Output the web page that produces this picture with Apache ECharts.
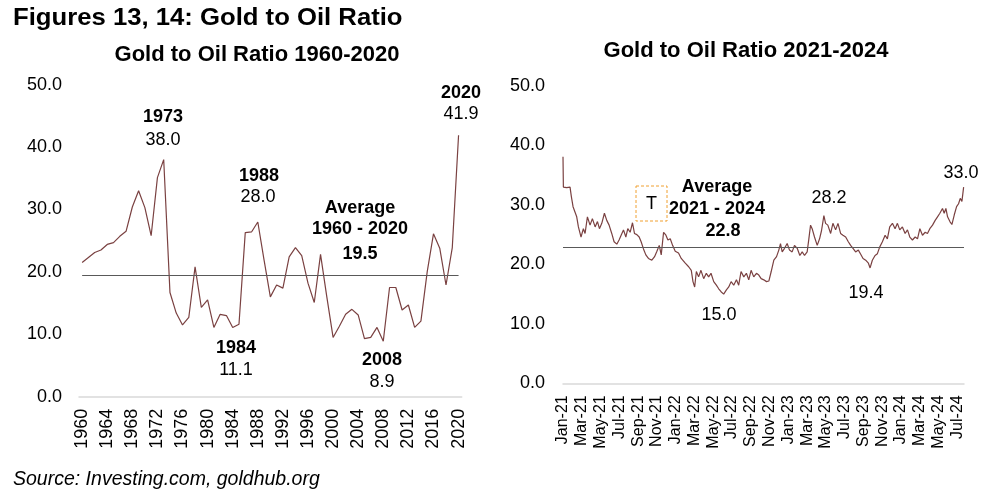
<!DOCTYPE html>
<html>
<head>
<meta charset="utf-8">
<script src="https://cdn.jsdelivr.net/npm/echarts@6/dist/echarts.min.js"></script>
<style>
html,body{margin:0;padding:0;background:#fff;}
#chart{width:1008px;height:500px;}
</style>
</head>
<body>
<div id="chart"></div>
<script>
// ---- Left chart data: Gold to Oil Ratio 1960-2020 (annual) ----
var leftYears = [];
for (var yy = 1960; yy <= 2020; yy++) leftYears.push(String(yy));
var leftValues = [
  21.5, 22.3, 23.1, 23.5, 24.4, 24.7, 25.7, 26.5, 30.4, 33.0,
  30.3, 25.8, 35.1, 38.0, 16.7, 13.4, 11.5, 12.7, 20.8, 14.3,
  15.5, 11.1, 13.2, 13.0, 11.1, 11.6, 26.3, 26.4, 28.0, 21.9,
  16.0, 17.9, 17.4, 22.4, 23.9, 22.6, 18.2, 15.1, 22.8, 16.0,
  9.5, 11.3, 13.2, 14.0, 13.1, 9.3, 9.5, 11.1, 8.9, 17.5,
  17.5, 13.9, 14.7, 11.1, 12.1, 20.0, 26.1, 23.8, 17.9, 23.9,
  41.9
];
var leftAverage = 19.5;

// ---- Right chart data: Gold to Oil Ratio 2021-2024 (months since Jan-21) ----
var rightMonths = [
  0, 0.04, 0.39, 0.75, 0.89, 1.07, 1.46, 1.64, 1.92, 2.17, 2.35, 2.6, 2.88, 3.13, 3.42, 3.67, 3.88, 4.13, 4.41, 4.66,
  4.91, 5.19, 5.44, 5.73, 5.97, 6.19, 6.44, 6.69, 6.9, 7.15, 7.4, 7.61, 7.86, 8.11, 8.32, 8.57, 8.82, 9.1, 9.46, 9.75,
  10.0, 10.25, 10.46, 10.71, 10.96, 11.17, 11.42, 11.67, 11.95, 12.3, 12.59, 13.02, 13.38, 13.66, 13.84,
  14.02, 14.2, 14.44, 14.69, 14.98, 15.26, 15.51, 15.76, 16.05, 16.33, 16.58, 16.83, 17.11, 17.4, 17.65, 17.9, 18.18,
  18.47, 18.71, 18.96, 19.25, 19.53, 19.78, 20.03, 20.31, 20.6, 20.85, 21.1, 21.38, 21.67, 21.92, 22.17, 22.45, 22.74,
  22.98, 23.16, 23.34, 23.59, 23.87, 24.12, 24.4, 24.65, 24.94, 25.22, 25.47, 25.72, 26.0, 26.18, 26.36, 26.53, 26.78,
  27.07, 27.32, 27.53, 27.78, 27.96, 28.2,
  28.5, 28.74, 29.03, 29.28, 29.56, 29.81, 30.1, 30.38, 30.63, 30.88, 31.16, 31.45, 31.7, 31.95, 32.23, 32.52, 32.7,
  32.94, 33.23, 33.48, 33.72, 34.01, 34.3, 34.54, 34.79, 35.08, 35.36, 35.61, 35.86, 36.14, 36.43, 36.68, 36.93, 37.21,
  37.5, 37.75, 38.0, 38.28, 38.57, 38.81, 39.06, 39.35, 39.63, 39.88, 40.13, 40.41, 40.59, 40.77, 40.95, 41.2, 41.41,
  41.66, 41.91, 42.12, 42.3, 42.48, 42.66
];
var rightValues = [
  38.1, 33.0, 32.9, 33.0, 31.4, 29.7, 28.0, 26.3, 24.6, 26.0, 25.2, 28.0, 26.6, 27.7, 26.3, 27.2, 26.0, 26.9, 28.6, 27.4,
  26.6, 25.2, 23.8, 23.4, 24.1, 24.9, 25.8, 24.6, 26.0, 25.4, 27.0, 25.2, 25.0, 24.6, 23.8, 22.6, 21.6, 21.0, 20.7, 21.3,
  22.2, 23.2, 21.6, 25.4, 24.9, 24.1, 24.3, 23.2, 22.2, 21.9, 21.0, 20.2, 19.6, 19.0, 17.1,
  16.2, 18.8, 17.9, 19.0, 17.6, 18.5, 17.9, 18.5, 17.1, 16.5, 15.9, 15.4, 15.0, 15.7, 16.2, 17.1, 16.5,
  17.4, 16.5, 18.8, 17.9, 18.5, 17.4, 19.0, 17.9, 18.5, 18.2, 17.6, 17.4, 17.1, 17.2, 18.8, 20.7, 21.3,
  22.4, 23.5, 22.1, 22.7, 23.5, 22.4, 22.1, 23.2, 22.7, 21.5, 22.1, 21.5, 22.1, 24.3, 26.6, 26.0, 24.6,
  23.2, 24.3, 25.7, 28.2, 26.9, 26.6,
  25.2, 26.9, 25.8, 26.9, 25.2, 24.9, 24.6, 23.8, 23.2, 22.7, 22.1, 22.4, 21.7, 21.0, 20.7, 20.2, 19.4,
  20.7, 21.5, 21.8, 22.9, 23.8, 24.9, 24.3, 26.3, 26.9, 26.0, 26.9, 25.8, 26.3, 25.2, 25.8, 24.6, 24.1,
  24.6, 24.3, 26.0, 24.9, 25.4, 25.2, 26.0, 26.6, 27.4, 28.0, 28.6, 29.4, 28.6, 29.4, 28.0, 27.2, 26.7,
  28.3, 29.7, 30.2, 31.1, 30.6, 33.0
];
var rightAverage = 22.8;
var monthNames = ['Jan','Feb','Mar','Apr','May','Jun','Jul','Aug','Sep','Oct','Nov','Dec'];
var rightEndMonth = 42.7;

var FONT = "'Liberation Sans', Arial, sans-serif";
var LINE = '#7a4141';
var AVG = '#595959';
var AXIS = '#d9d9d9';

function monthLabel(v) {
  var idx = Math.round(v);
  var yr = 21 + Math.floor(idx / 12);
  return monthNames[idx % 12] + '-' + yr;
}

function txt(text, x, y, size, bold, extra, scaleX) {
  var o = {
    type: 'text', x: x, y: y, silent: true,
    style: {
      text: text, fill: '#000',
      font: (bold ? 'bold ' : '') + size + 'px ' + FONT,
      textAlign: 'center', textVerticalAlign: 'middle', verticalAlign: 'middle'
    }
  };
  if (extra) for (var k in extra) o.style[k] = extra[k];
  if (scaleX) o.scaleX = scaleX;
  return o;
}

var chart = echarts.init(document.getElementById('chart'), null, {renderer: 'canvas'});
var option = {
  backgroundColor: '#fff',
  animation: false,
  grid: [
    {left: 79, top: 84.7, width: 382.7, height: 312},
    {left: 563, top: 86, width: 401, height: 297.3}
  ],
  xAxis: [
    {
      type: 'category', gridIndex: 0, data: leftYears, boundaryGap: true,
      axisLine: {lineStyle: {color: AXIS, width: 1.5}},
      axisTick: {show: false},
      axisLabel: {interval: 3, rotate: 90, margin: 12, color: '#000', fontSize: 18, fontFamily: FONT},
      splitLine: {show: false}
    },
    {
      type: 'value', gridIndex: 1, min: 0, max: rightEndMonth, interval: 2,
      axisLine: {show: true, onZero: false, lineStyle: {color: AXIS, width: 1.5}},
      axisTick: {show: false},
      axisLabel: {rotate: 90, margin: 12, color: '#000', fontSize: 16, fontFamily: FONT,
        showMaxLabel: false, formatter: monthLabel},
      splitLine: {show: false}
    }
  ],
  yAxis: [
    {
      type: 'value', gridIndex: 0, min: 0, max: 50, interval: 10,
      axisLine: {show: false}, axisTick: {show: false}, splitLine: {show: false},
      axisLabel: {margin: 17, color: '#000', fontSize: 18, fontFamily: FONT,
        formatter: function (v) { return v.toFixed(1); }}
    },
    {
      type: 'value', gridIndex: 1, min: 0, max: 50, interval: 10,
      axisLine: {show: false}, axisTick: {show: false}, splitLine: {show: false},
      axisLabel: {margin: 18, color: '#000', fontSize: 18, fontFamily: FONT,
        formatter: function (v) { return v.toFixed(1); }}
    }
  ],
  series: [
    {
      type: 'line', xAxisIndex: 0, yAxisIndex: 0, data: leftValues,
      symbol: 'none', lineStyle: {color: LINE, width: 1.2}, silent: true,
      markLine: {
        silent: true, symbol: 'none', label: {show: false},
        lineStyle: {color: AVG, width: 1.2, type: 'solid'},
        data: [[{coord: [leftYears[0], leftAverage]}, {coord: [leftYears[leftYears.length - 1], leftAverage]}]]
      }
    },
    {
      type: 'line', xAxisIndex: 1, yAxisIndex: 1,
      data: rightMonths.map(function (m, i) { return [m, rightValues[i]]; }),
      symbol: 'none', lineStyle: {color: LINE, width: 1.2}, silent: true,
      markLine: {
        silent: true, symbol: 'none', label: {show: false},
        lineStyle: {color: AVG, width: 1.2, type: 'solid'},
        data: [{yAxis: rightAverage}]
      }
    }
  ],
  graphic: [
    txt('Figures 13, 14: Gold to Oil Ratio', 13, 18, 24, true, {textAlign: 'left'}, 1.07),
    txt('Gold to Oil Ratio 1960-2020', 257, 54.5, 22, true),
    txt('Gold to Oil Ratio 2021-2024', 746, 51, 22, true),
    // left annotations
    txt('1973', 163, 117, 18, true),
    txt('38.0', 163, 140, 18, false),
    txt('1988', 259, 176, 18, true),
    txt('28.0', 258, 197, 18, false),
    txt('Average', 360, 208, 18, true),
    txt('1960 - 2020', 360, 229, 18, true),
    txt('19.5', 360, 254, 18, true),
    txt('1984', 236, 348, 18, true),
    txt('11.1', 236, 370, 18, false),
    txt('2008', 382, 360, 18, true),
    txt('8.9', 382, 382, 18, false),
    txt('2020', 461, 93, 18, true),
    txt('41.9', 461, 114, 18, false),
    // right annotations
    txt('Average', 717, 187, 18, true),
    txt('2021 - 2024', 717, 209, 18, true),
    txt('22.8', 723, 231, 18, true),
    txt('28.2', 829, 198, 18, false),
    txt('15.0', 719, 315, 18, false),
    txt('19.4', 866, 293, 18, false),
    txt('33.0', 961, 173, 18, false),
    {
      type: 'rect', silent: true,
      shape: {x: 636, y: 186, width: 31, height: 35},
      style: {fill: 'none', stroke: '#f0a030', lineWidth: 1, lineDash: [3, 2]}
    },
    txt('T', 651.5, 204, 18, false),
    txt('Source: Investing.com, goldhub.org', 13, 480, 19.5, false,
      {textAlign: 'left', font: 'italic 19.5px ' + FONT})
  ]
};
chart.setOption(option);
</script>
</body>
</html>
